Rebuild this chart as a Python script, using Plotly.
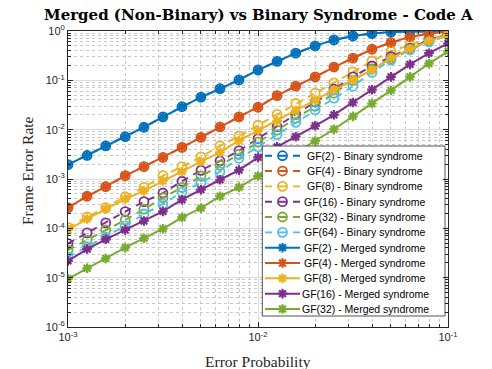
import plotly.graph_objects as go

# ---------------- data ----------------
error_prob = [0.001, 0.00126, 0.00158, 0.002, 0.00251, 0.00316, 0.00398, 0.00501, 0.00631, 0.00794,
              0.01, 0.0126, 0.0158, 0.02, 0.0251, 0.0316, 0.0398, 0.0501, 0.0631, 0.0794, 0.1]

binary_labels = ["GF(2) - Binary syndrome", "GF(4) - Binary syndrome", "GF(8) - Binary syndrome",
                 "GF(16) - Binary syndrome", "GF(32) - Binary syndrome", "GF(64) - Binary syndrome"]
merged_labels = ["GF(2) - Merged syndrome", "GF(4) - Merged syndrome", "GF(8) - Merged syndrome",
                 "GF(16) - Merged syndrome", "GF(32) - Merged syndrome"]

fer_gf2 = [1.95e-3, 3.0e-3, 4.7e-3, 7.2e-3, 1.12e-2, 1.82e-2, 2.92e-2, 4.57e-2, 6.76e-2, 0.102,
           0.162, 0.243, 0.355, 0.50, 0.66, 0.79, 0.89, 0.95, 0.977, 0.99, 1.0]
fer_gf4 = [2.63e-4, 4.47e-4, 7.0e-4, 1.17e-3, 1.78e-3, 2.75e-3, 4.37e-3, 7.0e-3, 1.135e-2, 1.82e-2,
           2.85e-2, 4.9e-2, 7.6e-2, 0.1175, 0.186, 0.282, 0.427, 0.582, 0.759, 0.891, 0.977]

binary_gf2 = fer_gf2
binary_gf4 = fer_gf4
binary_gf8 = [1.05e-4, 1.7e-4, 2.63e-4, 4.37e-4, 6.76e-4, 1.17e-3, 1.78e-3, 2.82e-3, 4.68e-3, 7.4e-3,
              1.23e-2, 2.04e-2, 3.39e-2, 5.5e-2, 8.9e-2, 0.148, 0.245, 0.389, 0.525, 0.692, 0.851]
binary_gf16 = [4.9e-5, 8.1e-5, 1.29e-4, 2.19e-4, 3.47e-4, 5.2e-4, 9.0e-4, 1.5e-3, 2.32e-3, 3.76e-3,
               6.6e-3, 1.15e-2, 2.04e-2, 3.63e-2, 6.6e-2, 0.1175, 0.195, 0.302, 0.447, 0.661, 0.891]
binary_gf32 = [3.63e-5, 5.75e-5, 9.3e-5, 1.48e-4, 2.45e-4, 4.17e-4, 6.76e-4, 1.15e-3, 1.9e-3, 3.16e-3,
               5.6e-3, 9.8e-3, 1.7e-2, 3.0e-2, 5.5e-2, 0.10, 0.17, 0.275, 0.427, 0.631, 0.871]
binary_gf64 = [2.63e-5, 4.27e-5, 6.6e-5, 1.12e-4, 1.95e-4, 3.09e-4, 5.4e-4, 8.4e-4, 1.41e-3, 2.63e-3,
               4.47e-3, 7.9e-3, 1.41e-2, 2.51e-2, 4.37e-2, 7.6e-2, 0.1445, 0.257, 0.412, 0.603, 0.832]

merged_gf2 = fer_gf2
merged_gf4 = fer_gf4
merged_gf8 = [9.3e-5, 1.55e-4, 2.45e-4, 3.9e-4, 5.75e-4, 9.1e-4, 1.41e-3, 2.26e-3, 3.47e-3, 6.0e-3,
              9.55e-3, 1.51e-2, 2.45e-2, 3.98e-2, 6.46e-2, 0.102, 0.162, 0.282, 0.431, 0.631, 0.832]
merged_gf16 = [2.19e-5, 3.8e-5, 6.0e-5, 9.3e-5, 1.41e-4, 2.21e-4, 3.8e-4, 6.1e-4, 9.66e-4, 1.51e-3,
               2.75e-3, 4.47e-3, 7.2e-3, 1.2e-2, 2.0e-2, 3.55e-2, 6.46e-2, 0.1175, 0.211, 0.355, 0.562]
merged_gf32 = [9.5e-6, 1.55e-5, 2.45e-5, 4.07e-5, 6.3e-5, 9.8e-5, 1.66e-4, 2.57e-4, 4.47e-4, 6.76e-4,
               1.15e-3, 2.0e-3, 3.39e-3, 5.9e-3, 1.02e-2, 1.86e-2, 3.39e-2, 6.24e-2, 0.1175, 0.219, 0.389]

binary_series = [binary_gf2, binary_gf4, binary_gf8, binary_gf16, binary_gf32, binary_gf64]
merged_series = [merged_gf2, merged_gf4, merged_gf8, merged_gf16, merged_gf32]

x_tickvals = [1e-3, 1e-2, 1e-1]
x_ticktext = ["10<sup>-3</sup>", "10<sup>-2</sup>", "10<sup>-1</sup>"]
y_tickvals = [1e-6, 1e-5, 1e-4, 1e-3, 1e-2, 1e-1, 1]
y_ticktext = ["10<sup>-6</sup>", "10<sup>-5</sup>", "10<sup>-4</sup>", "10<sup>-3</sup>",
              "10<sup>-2</sup>", "10<sup>-1</sup>", "10<sup>0</sup>"]

colors = ["#0072BD", "#D95319", "#EDB120", "#7E2F8E", "#77AC30", "#4DBEEE"]

# ---------------- figure ----------------
W, H = 492, 369
ML, MR, MT, MB = 68, 44, 31, 42
fig = go.Figure()

BIN_LW, MER_LW = 1.9, 2.0
BIN_MARK = dict(symbol="circle-open", size=9)
MER_MARK = dict(symbol="asterisk-open", size=8)

for lab, ys, c in zip(binary_labels, binary_series, colors):
    fig.add_trace(go.Scatter(
        x=error_prob, y=ys, mode="lines+markers", name=lab, showlegend=False,
        line=dict(color=c, width=BIN_LW, dash="7px,6px"),
        marker=dict(**BIN_MARK, color=c, line=dict(width=1.8, color=c)),
    ))
for lab, ys, c in zip(merged_labels, merged_series, colors):
    fig.add_trace(go.Scatter(
        x=error_prob, y=ys, mode="lines+markers", name=lab, showlegend=False,
        line=dict(color=c, width=MER_LW),
        marker=dict(**MER_MARK, color=c, line=dict(width=2.2, color=c)),
    ))

# minor ticks
x_minor = [m * 10.0 ** e for e in (-3, -2) for m in range(2, 10)]
y_minor = [m * 10.0 ** e for e in range(-6, 0) for m in range(2, 10)]

axis_common = dict(
    type="log", showline=True, linecolor="#262626", linewidth=1, mirror="ticks",
    ticks="inside", ticklen=5, tickcolor="#262626", tickwidth=1,
    showgrid=True, gridcolor="#dcdcdc", gridwidth=1, zeroline=False,
    tickfont=dict(family="Liberation Sans, Arial", size=11, color="#262626"),
    tickmode="array",
)
minor_common = dict(tickmode="array", ticks="inside", ticklen=3, tickcolor="#262626",
                    showgrid=True, gridcolor="#c8c8c8", griddash="dot", gridwidth=1)
fig.update_xaxes(**axis_common, range=[-3, -1], tickvals=x_tickvals, ticktext=x_ticktext,
                 minor=dict(**minor_common, tickvals=x_minor))
fig.update_yaxes(**axis_common, range=[-6, 0], tickvals=y_tickvals, ticktext=y_ticktext,
                 minor=dict(**minor_common, tickvals=y_minor))

# ---------------- legend (drawn on a pixel-scaled overlay axis) ----------------
LX0, LX1, LY0, LY1 = 262.3, 445, 146, 316
row_y0, row_dy = 155.7, 15.33
all_labels = binary_labels + merged_labels
all_colors = colors + colors[:5]

fig.add_trace(go.Scatter(
    x=[LX0, LX1, LX1, LX0, LX0], y=[LY0, LY0, LY1, LY1, LY0], xaxis="x2", yaxis="y2",
    mode="lines", fill="toself", fillcolor="white", line=dict(color="#262626", width=0.8),
    showlegend=False, hoverinfo="skip"))
for i, (lab, c) in enumerate(zip(all_labels, all_colors)):
    yy = row_y0 + i * row_dy
    binary = i < 6
    fig.add_trace(go.Scatter(
        x=[265, 300], y=[yy, yy], xaxis="x2", yaxis="y2", mode="lines",
        line=dict(color=c, width=BIN_LW if binary else MER_LW, dash="7px,7px" if binary else "solid"),
        showlegend=False, hoverinfo="skip"))
    fig.add_trace(go.Scatter(
        x=[282.5], y=[yy], xaxis="x2", yaxis="y2", mode="markers",
        marker=(dict(**BIN_MARK, color=c, line=dict(width=1.8, color=c)) if binary
                else dict(**MER_MARK, color=c, line=dict(width=2.2, color=c))),
        showlegend=False, hoverinfo="skip"))
    fig.add_annotation(x=365, y=yy, xref="x2", yref="y2", text=lab, showarrow=False,
                       xanchor="center", yanchor="middle",
                       font=dict(family="Liberation Sans, Arial", size=10.5, color="#000000"))

fig.update_layout(
    xaxis2=dict(overlaying="x", range=[ML, W - MR], visible=False, fixedrange=True),
    yaxis2=dict(overlaying="y", range=[H - MB, MT], visible=False, fixedrange=True),
)

# ---------------- titles ----------------
fig.update_layout(
    width=W, height=H, margin=dict(l=ML, r=MR, t=MT, b=MB, autoexpand=False),
    paper_bgcolor="white", plot_bgcolor="white", showlegend=False,
    title=dict(text="<b>Merged (Non-Binary) vs Binary Syndrome - Code A</b>",
               x=(258.4) / W, xanchor="center", xref="container",
               y=1 - 14.5 / H, yanchor="middle", yref="container",
               font=dict(family="DejaVu Serif", size=15, color="#000000")),
)
fig.add_annotation(text="Error Probability", xref="paper", yref="paper",
                   x=0.5, y=(H - MB - 361.5) / (H - MT - MB), xanchor="center", yanchor="middle",
                   showarrow=False, font=dict(family="Liberation Serif", size=15.5, color="#262626"))
fig.add_annotation(text="Frame Error Rate", xref="paper", yref="paper", textangle=-90,
                   x=(27 - ML) / (W - ML - MR), y=(H - MB - 171) / (H - MT - MB),
                   xanchor="center", yanchor="middle",
                   showarrow=False, font=dict(family="Liberation Serif", size=15.5, color="#262626"))

fig.write_html("out.html")
